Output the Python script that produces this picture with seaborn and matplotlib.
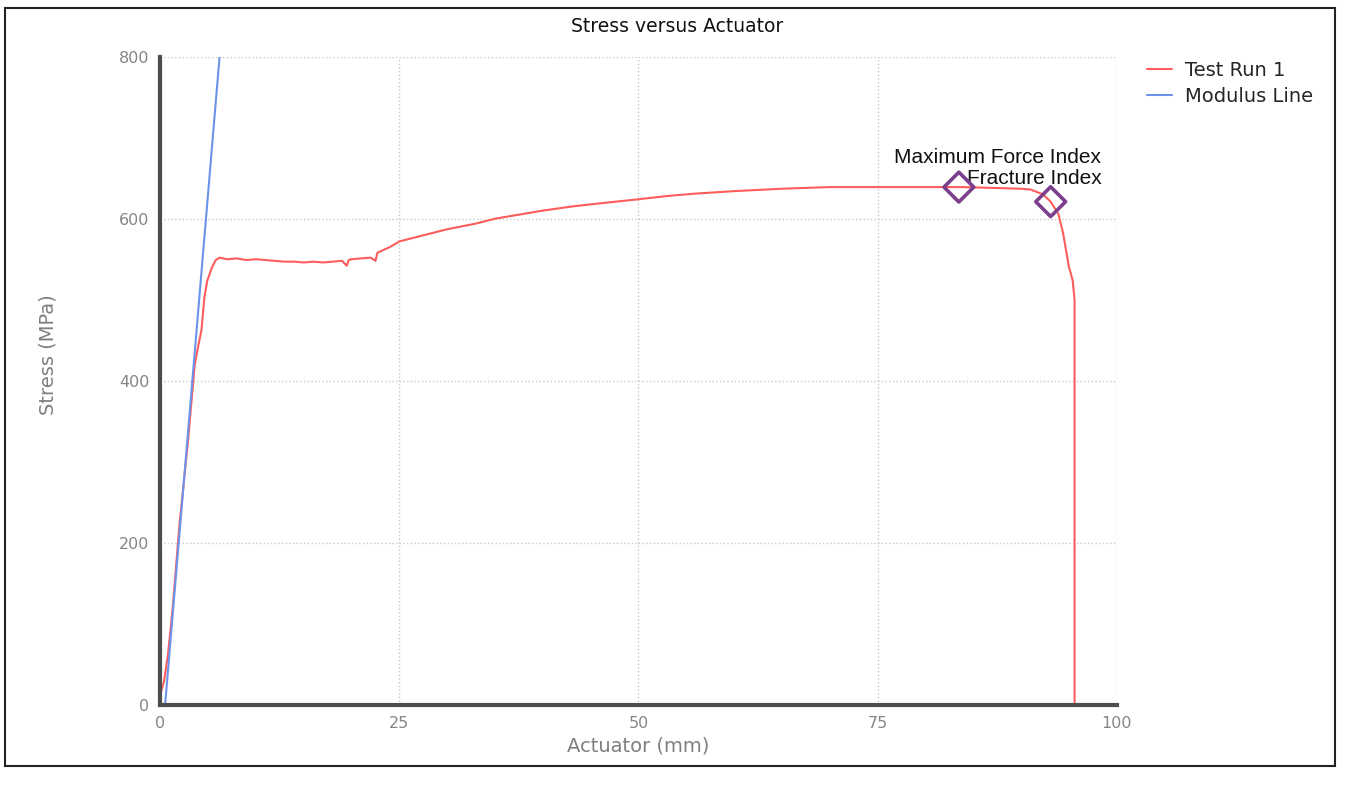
import matplotlib
matplotlib.use("Agg")
import matplotlib.pyplot as plt
import seaborn as sns
import pandas as pd
from matplotlib.patches import Rectangle

# test run 1 (actuator mm, stress MPa)
actuator = [0.0, 0.1, 0.4, 0.8, 1.3, 2.0, 2.9, 3.6, 4.0, 4.3, 4.6, 4.9, 5.4, 5.8, 6.2,
            7, 8, 9, 10, 11, 12, 13, 14, 15, 16, 17, 18, 19, 19.5, 19.7, 20, 21, 22,
            22.5, 22.7, 24, 25, 27, 30, 33, 35, 38, 40, 43, 46, 50, 53, 56, 60, 65,
            70, 75, 80, 84, 87, 90, 91, 92.3, 93.1, 93.9, 94.4, 95.0, 95.4, 95.6, 95.6]
stress = [15, 17, 30, 62, 120, 222, 326, 420, 445, 462, 502, 523, 540, 549, 552,
          550, 551, 549, 550, 549, 548, 547, 547, 546, 547, 546, 547, 548, 542, 549, 550, 551, 552,
          548, 558, 565, 572, 578, 587, 594, 600, 606, 610, 615, 619, 624, 628, 631, 634, 637,
          639, 639, 639, 639, 638, 637, 636, 630, 621, 606, 582, 541, 524, 500, 0]

modulus_x = [0.5, 6.2]
modulus_y = [0, 800]

index_names = ["Maximum Force Index", "Fracture Index"]
index_x = [83.5, 93.1]
index_y = [639, 621]

x_ticks = [0, 25, 50, 75, 100]
y_ticks = [0, 200, 400, 600, 800]

run = pd.DataFrame({"Actuator": actuator, "Stress": stress})
mod = pd.DataFrame({"Actuator": modulus_x, "Stress": modulus_y})
idx = pd.DataFrame({"Actuator": index_x, "Stress": index_y, "name": index_names})

sns.set_style("white")
plt.rcParams["font.family"] = ["DejaVu Sans"]

fig = plt.figure(figsize=(13.47, 7.86), dpi=100)
ax = fig.add_axes([0.119, 0.103, 0.71, 0.825])

sns.lineplot(data=run, x="Actuator", y="Stress", sort=False, estimator=None,
             color="#ff5c5c", linewidth=1.5, label="Test Run 1", ax=ax)
sns.lineplot(data=mod, x="Actuator", y="Stress", sort=False, estimator=None,
             color="#6c93ea", linewidth=1.5, label="Modulus Line", ax=ax)
sns.scatterplot(data=idx, x="Actuator", y="Stress", marker="D", s=230,
                facecolor="none", edgecolor="#7b3f8c", linewidth=2.6, zorder=5,
                legend=False, ax=ax)

offsets = [(28, 21), (-12, 16.5)]
for name, xv, yv, off in zip(index_names, index_x, index_y, offsets):
    ax.annotate(name, (xv, yv), xytext=off, textcoords="offset points",
                ha="center", va="center", fontsize=15, color="#111111",
                family=["Liberation Sans", "DejaVu Sans"])

ax.set_xlim(0, 100)
ax.set_ylim(0, 800)
ax.set_xticks(x_ticks)
ax.set_yticks(y_ticks)
ax.grid(True, linestyle=":", color="#c8c8c8", linewidth=1)
ax.tick_params(length=0, labelsize=11.5, labelcolor="#858585", pad=8)

for side in ["top", "right"]:
    ax.spines[side].set_visible(False)
for side in ["left", "bottom"]:
    ax.spines[side].set_color("#4d4d4d")
    ax.spines[side].set_linewidth(3)

ax.set_xlabel("Actuator (mm)", fontsize=14, color="#7f7f7f")
ax.set_ylabel("Stress (MPa)", fontsize=14, color="#7f7f7f")
ax.xaxis.set_label_coords(0.5, -0.048)
ax.yaxis.set_label_coords(-0.108, 0.54)

fig.suptitle("Stress versus Actuator", x=0.503, y=0.966, va="center",
             fontsize=13.5, color="#111111")

ax.legend(loc="upper left", bbox_to_anchor=(1.013, 1.02), frameon=False,
          fontsize=14, handlelength=1.3, labelspacing=0.35, handletextpad=0.7)

# printed page frame around the chart
fig.patches.append(Rectangle((0.004, 0.025), 0.987, 0.965, transform=fig.transFigure,
                             fill=False, edgecolor="#222222", linewidth=1.5))

fig.savefig("out.png", dpi=100)
